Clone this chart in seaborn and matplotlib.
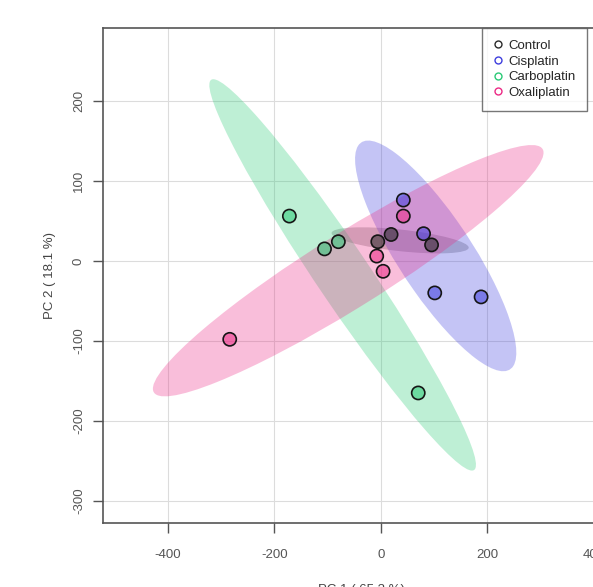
import numpy as np
import pandas as pd
import matplotlib
matplotlib.use("Agg")
import matplotlib.pyplot as plt
import seaborn as sns
from matplotlib.patches import Ellipse
from matplotlib.lines import Line2D

groups = ["Control", "Cisplatin", "Carboplatin", "Oxaliplatin"]
colors = ["#2a2a2a", "#3E3EDE", "#2ACA76", "#EC2A85"]

pc1_control = [-6, 19, 95]
pc2_control = [24, 33, 20]
pc1_cisplatin = [42, 80, 101, 188]
pc2_cisplatin = [76, 34, -40, -45]
pc1_carboplatin = [-172, -106, -80, 70]
pc2_carboplatin = [56, 15, 24, -165]
pc1_oxaliplatin = [42, -8, 4, -284]
pc2_oxaliplatin = [56, 6, -13, -98]

x_ticks = [-400, -200, 0, 200, 400]
y_ticks = [-300, -200, -100, 0, 100, 200]

pc1 = [pc1_control, pc1_cisplatin, pc1_carboplatin, pc1_oxaliplatin]
pc2 = [pc2_control, pc2_cisplatin, pc2_carboplatin, pc2_oxaliplatin]
data = pd.DataFrame({
    "PC1": sum(pc1, []),
    "PC2": sum(pc2, []),
    "Group": sum([[g] * len(v) for g, v in zip(groups, pc1)], []),
})

sns.set_style("white")
plt.rcParams['font.family'] = ['Liberation Sans', 'DejaVu Sans']
plt.rcParams['axes.unicode_minus'] = False

fig = plt.figure(figsize=(5.93, 5.87), dpi=100)
ax = fig.add_axes([103 / 593, 64 / 587, 517.6 / 593, 495 / 587])

# 95% confidence ellipses from each group's covariance
chi = np.sqrt(-2 * np.log(0.05))
for g, c in zip(groups, colors):
    sub = data[data.Group == g]
    pts = sub[["PC1", "PC2"]].values
    cov = np.cov(pts.T)
    vals, vecs = np.linalg.eigh(cov)
    order = vals.argsort()[::-1]
    vals, vecs = vals[order], vecs[:, order]
    ang = np.degrees(np.arctan2(vecs[1, 0], vecs[0, 0]))
    alpha = 0.24 if g == "Control" else 0.3
    e = Ellipse(pts.mean(axis=0), 2 * chi * np.sqrt(vals[0]), 2 * chi * np.sqrt(vals[1]),
                angle=ang, facecolor=c, edgecolor="none", alpha=alpha, zorder=1)
    ax.add_patch(e)

sns.scatterplot(data=data, x="PC1", y="PC2", hue="Group", palette=dict(zip(groups, colors)),
                s=90, linewidth=1.2, legend=False, ax=ax, zorder=3)
coll = ax.collections[-1]
fc = coll.get_facecolors()
fc[:, 3] = 0.55
coll.set_facecolors(fc)
coll.set_edgecolor("#151515")

ax.set_xlim(-522, 450)
ax.set_ylim(-327.5, 291)
ax.set_xticks(x_ticks)
ax.set_yticks(y_ticks)
ax.grid(True, color="#dcdcdc", linewidth=0.8, zorder=0)
ax.set_axisbelow(True)
for sp in ax.spines.values():
    sp.set_color("#555555")
    sp.set_linewidth(1.2)
ax.tick_params(axis="both", direction="out", length=7, width=1, color="#555555",
               labelsize=9.5, labelcolor="#555555", bottom=True, left=True)
ax.tick_params(axis="x", pad=12)
ax.tick_params(axis="y", pad=6)
plt.setp(ax.get_yticklabels(), rotation=90, va="center")

ax.set_xlabel("PC 1 ( 65.3 %)", fontsize=9.5, color="#444444", labelpad=16)
ax.set_ylabel("PC 2 ( 18.1 %)", fontsize=9.5, color="#444444", labelpad=12)

handles = [Line2D([], [], marker="o", linestyle="none", markerfacecolor="none",
                  markeredgecolor=c, markersize=5, markeredgewidth=1) for c in colors]
leg = ax.legend(handles, groups, loc="upper left", bbox_to_anchor=(0.732, 1.0),
                borderaxespad=0, frameon=True, fancybox=False, fontsize=9.5,
                handlelength=0.6, handletextpad=0.5, labelspacing=0.25, borderpad=0.9)
leg.get_frame().set_edgecolor("#555555")
leg.get_frame().set_linewidth(1.0)

fig.savefig("out.png", dpi=100)
